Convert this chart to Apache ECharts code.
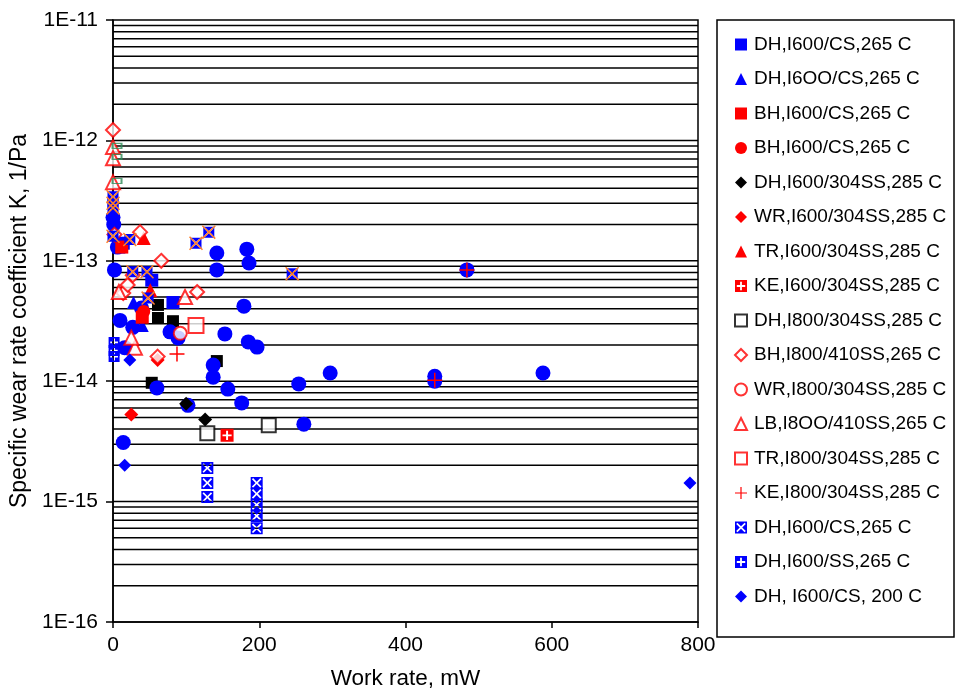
<!DOCTYPE html>
<html>
<head>
<meta charset="utf-8">
<script src="https://cdn.jsdelivr.net/npm/echarts@6/dist/echarts.min.js"></script>
<style>html,body{margin:0;padding:0;background:#fff}#c{width:957px;height:690px}</style>
</head>
<body>
<div id="c"></div>
<script>
// ---- data ----
const xTicks = [0, 200, 400, 600, 800];
const yTickLabels = ['1E-16', '1E-15', '1E-14', '1E-13', '1E-12', '1E-11'];
const legendNames = [
  'DH,I600/CS,265 C', 'DH,I6OO/CS,265 C', 'BH,I600/CS,265 C', 'BH,I600/CS,265 C\u200b',
  'DH,I600/304SS,285 C', 'WR,I600/304SS,285 C', 'TR,I600/304SS,285 C', 'KE,I600/304SS,285 C',
  'DH,I800/304SS,285 C', 'BH,I800/410SS,265 C', 'WR,I800/304SS,285 C', 'LB,I8OO/410SS,265 C',
  'TR,I800/304SS,285 C', 'KE,I800/304SS,285 C', 'DH,I600/CS,265 C\u200b', 'DH,I600/SS,265 C',
  'DH, I600/CS, 200 C'
];
const dhCsSquares = [[14, 1.4e-13], [8, 1.3e-13], [53, 6.9e-14], [82, 4.5e-14]];
const dhCsTriangles = [[40, 2.9e-14], [28, 4.5e-14]];
const bhCsSquares = [[40, 3.4e-14], [12, 1.3e-13]];
const bhCsCircles = [[42, 3.8e-14]];
const dh304Diamonds = [[100, 6.5e-15], [126, 4.8e-15]];
const wr304Diamonds = [[25, 5.3e-15], [61, 1.5e-14]];
const tr304Triangles = [[51, 5.7e-14], [42, 1.55e-13]];
const ke304Squares = [[156, 3.55e-15]];
const dh800OpenSquares = [[129, 3.7e-15], [213, 4.3e-15]];
const bh800OpenDiamonds = [[0, 1.22e-12], [37, 1.73e-13], [66, 1.0e-13], [115, 5.5e-14], [14, 5.4e-14],
  [27, 7.6e-14], [61, 1.6e-14], [20, 6.3e-14], [2, 1.65e-13]];
const wr800OpenCircles = [[92, 2.5e-14]];
const lb800OpenTriangles = [[0, 8.8e-13], [0, 7.1e-13], [0, 4.5e-13], [98.5, 5.0e-14], [8, 5.5e-14],
  [30, 1.9e-14], [25, 2.3e-14]];
const tr800OpenSquares = [[113.5, 2.9e-14]];
const ke800Plus = [[87.5, 1.68e-14], [440, 1.02e-14], [484, 8.4e-14]];
const dhCsHatched = [[129, 1.9e-15], [129, 1.43e-15], [129, 1.09e-15], [196.5, 1.43e-15], [196.5, 1.16e-15],
  [196.5, 9.4e-16], [196.5, 7.6e-16], [196.5, 6.0e-16]];
const dhSsSquares = [[1.5, 2.1e-14], [1.5, 1.8e-14], [1.5, 1.6e-14]];
const dh200Diamonds = [[23, 1.5e-14], [16, 2.0e-15], [789, 1.43e-15]];
// unlabelled groups
const blueCircles = [[0, 2.3e-13], [1, 2.0e-13], [6, 1.3e-13], [2, 8.4e-14], [39, 4.05e-14], [9.6, 3.2e-14],
  [27, 2.8e-14], [16, 1.9e-14], [78, 2.57e-14], [89, 2.29e-14], [14, 3.1e-15], [60, 8.8e-15], [102.5, 6.3e-15],
  [137, 1.36e-14], [137, 1.08e-14], [157, 8.6e-15], [176, 6.6e-15], [142, 1.16e-13], [142, 8.4e-14],
  [183, 1.25e-13], [186, 9.6e-14], [179, 4.2e-14], [153, 2.47e-14], [185, 2.12e-14], [197, 1.92e-14],
  [254, 9.5e-15], [261, 4.4e-15], [297, 1.17e-14], [440, 1.1e-14], [440, 1.0e-14], [588, 1.17e-14], [484, 8.4e-14]];
const blackSquares = [[61.5, 4.3e-14], [61.5, 3.35e-14], [82, 3.15e-14], [142, 1.47e-14], [53, 9.7e-15]];
const crossedSquares = [[0, 3.4e-13], [0, 3.0e-13], [0, 2.75e-13], [0, 1.6e-13], [23, 1.5e-13], [27, 8.1e-14],
  [46.5, 8.1e-14], [48, 4.9e-14], [113.5, 1.4e-13], [131, 1.73e-13], [245, 7.8e-14]];
const greenRects = [[5.5, 9e-13], [5.5, 7.3e-13], [5.5, 4.6e-13]];
const gridMultipliers = [1, 2, 3, 4, 5, 6, 7, 8, 9];
const gridDecades = [-16, -15, -14, -13, -12];

// ---- symbols ----
const HATCH = 'path://M0,0L20,0L20,20L0,20ZM2,4L8,10L2,16L4,18L10,12L16,18L18,16L12,10L18,4L16,2L10,8L4,2Z';
const PLUSHOLE = 'path://M0,0L20,0L20,20L0,20ZM8.5,3L8.5,8.5L3,8.5L3,11.5L8.5,11.5L8.5,17L11.5,17L11.5,11.5L17,11.5L17,8.5L11.5,8.5L11.5,3Z';
const PLUS = 'path://M9,0L11,0L11,9L20,9L20,11L11,11L11,20L9,20L9,11L0,11L0,9L9,9Z';
const XMARK = 'path://M0,1.5L1.5,0L10,8.5L18.5,0L20,1.5L11.5,10L20,18.5L18.5,20L10,11.5L1.5,20L0,18.5L8.5,10Z';

const BLUE = '#0000ff', RED = '#ff0000', BLACK = '#000000';
const FONT = 'Liberation Sans, Arial, sans-serif';

function sc(name, data, symbol, size, color, open, z) {
  return {
    type: 'scatter', name: name, data: data, symbol: symbol, symbolSize: size, z: z || 3,
    itemStyle: open ? { color: '#ffffff', borderColor: color, borderWidth: 2 } : { color: color, opacity: 1 },
    emphasis: { disabled: true }, animation: false
  };
}

const gridSeries = [];
gridDecades.forEach(function (e) {
  gridMultipliers.forEach(function (m) {
    if (e === -16 && m === 1) return;
    const v = m * Math.pow(10, e);
    gridSeries.push({
      type: 'line', data: [[xTicks[0], v], [xTicks[xTicks.length - 1], v]], symbol: 'none', silent: true, z: 1,
      lineStyle: { color: '#000', width: 1.5 }, animation: false, legendHoverLink: false
    });
  });
});

const series = gridSeries.concat([
  sc('', blackSquares, 'rect', 12, BLACK, false, 2),
  sc('', blueCircles, 'circle', 15, BLUE, false, 2),
  sc(legendNames[0], dhCsSquares, 'rect', 13, BLUE),
  sc(legendNames[1], dhCsTriangles, 'triangle', 13, BLUE),
  sc(legendNames[2], bhCsSquares, 'rect', 13, RED),
  sc(legendNames[3], bhCsCircles, 'circle', 13, RED),
  sc(legendNames[4], dh304Diamonds, 'diamond', 14, BLACK),
  sc(legendNames[5], wr304Diamonds, 'diamond', 14, RED),
  sc(legendNames[6], tr304Triangles, 'triangle', 14, RED),
  sc(legendNames[7], ke304Squares, PLUSHOLE, 13, RED),
  sc(legendNames[8], dh800OpenSquares, 'rect', 14, BLACK, true),
  sc(legendNames[9], bh800OpenDiamonds, 'diamond', 14, RED, true),
  sc(legendNames[10], wr800OpenCircles, 'circle', 13, RED, true),
  sc(legendNames[11], lb800OpenTriangles, 'triangle', 14, RED, true),
  sc(legendNames[12], tr800OpenSquares, 'rect', 15, RED, true),
  sc(legendNames[13], ke800Plus, PLUS, 15, RED, false, 5),
  sc(legendNames[14], dhCsHatched, HATCH, 12, BLUE),
  sc(legendNames[15], dhSsSquares, PLUSHOLE, 11, BLUE),
  sc(legendNames[16], dh200Diamonds, 'diamond', 13, BLUE),
  sc('', crossedSquares, HATCH, 11, BLUE, false, 4),
  sc('', crossedSquares, XMARK, 14, '#ff7f27', false, 4),
  {
    type: 'scatter', name: '', data: greenRects, symbol: 'rect', symbolSize: [9, 5], z: 4,
    itemStyle: { color: 'rgba(255,255,255,0)', borderColor: '#2e8b57', borderWidth: 1.5 }, animation: false
  }
]);

const chart = echarts.init(document.getElementById('c'), null, { renderer: 'canvas' });
chart.setOption({
  backgroundColor: '#fff',
  animation: false,
  textStyle: { fontFamily: FONT },
  grid: {
    left: 113, right: 259, top: 20, bottom: 68, containLabel: false, outerBoundsMode: 'none',
    show: true, borderColor: '#000', borderWidth: 1.5, backgroundColor: 'transparent'
  },
  xAxis: {
    type: 'value', min: xTicks[0], max: xTicks[xTicks.length - 1], interval: 200,
    name: 'Work rate, mW', nameLocation: 'middle', nameGap: 45,
    nameTextStyle: { color: '#000', fontSize: 22.5, fontFamily: FONT },
    axisLine: { show: true, lineStyle: { color: '#000', width: 1.5 } },
    axisTick: { show: true, inside: false, length: 6, lineStyle: { color: '#000', width: 1.5 } },
    axisLabel: { color: '#000', fontSize: 21, fontFamily: FONT, margin: 13 },
    splitLine: { show: false }
  },
  yAxis: {
    type: 'log', logBase: 10, min: 1e-16, max: 1e-11,
    name: 'Specific wear rate coefficient K, 1/Pa', nameLocation: 'middle', nameGap: 80,
    nameTextStyle: { color: '#000', fontSize: 23, fontFamily: FONT },
    axisLine: { show: true, lineStyle: { color: '#000', width: 1.5 } },
    axisTick: { show: true, inside: false, length: 7, lineStyle: { color: '#000', width: 1.5 } },
    axisLabel: {
      color: '#000', fontSize: 21, fontFamily: FONT, margin: 15,
      formatter: function (v) {
        const e = Math.round(Math.log10(v));
        const idx = e + 16;
        return yTickLabels[idx] || ('1E' + e);
      }
    },
    splitLine: { show: false }
  },
  legend: {
    data: legendNames, orient: 'vertical', left: 729, top: 30, itemGap: 15.5,
    itemWidth: 12, itemHeight: 12, selectedMode: false,
    textStyle: { color: '#000', fontSize: 19, fontFamily: FONT, padding: [0, 0, 0, 2] }
  },
  graphic: [{
    type: 'rect', silent: true,
    shape: { x: 717, y: 20, width: 237, height: 617 },
    style: { fill: 'none', stroke: '#000', lineWidth: 1.5 }
  }],
  series: series
});
</script>
</body>
</html>
